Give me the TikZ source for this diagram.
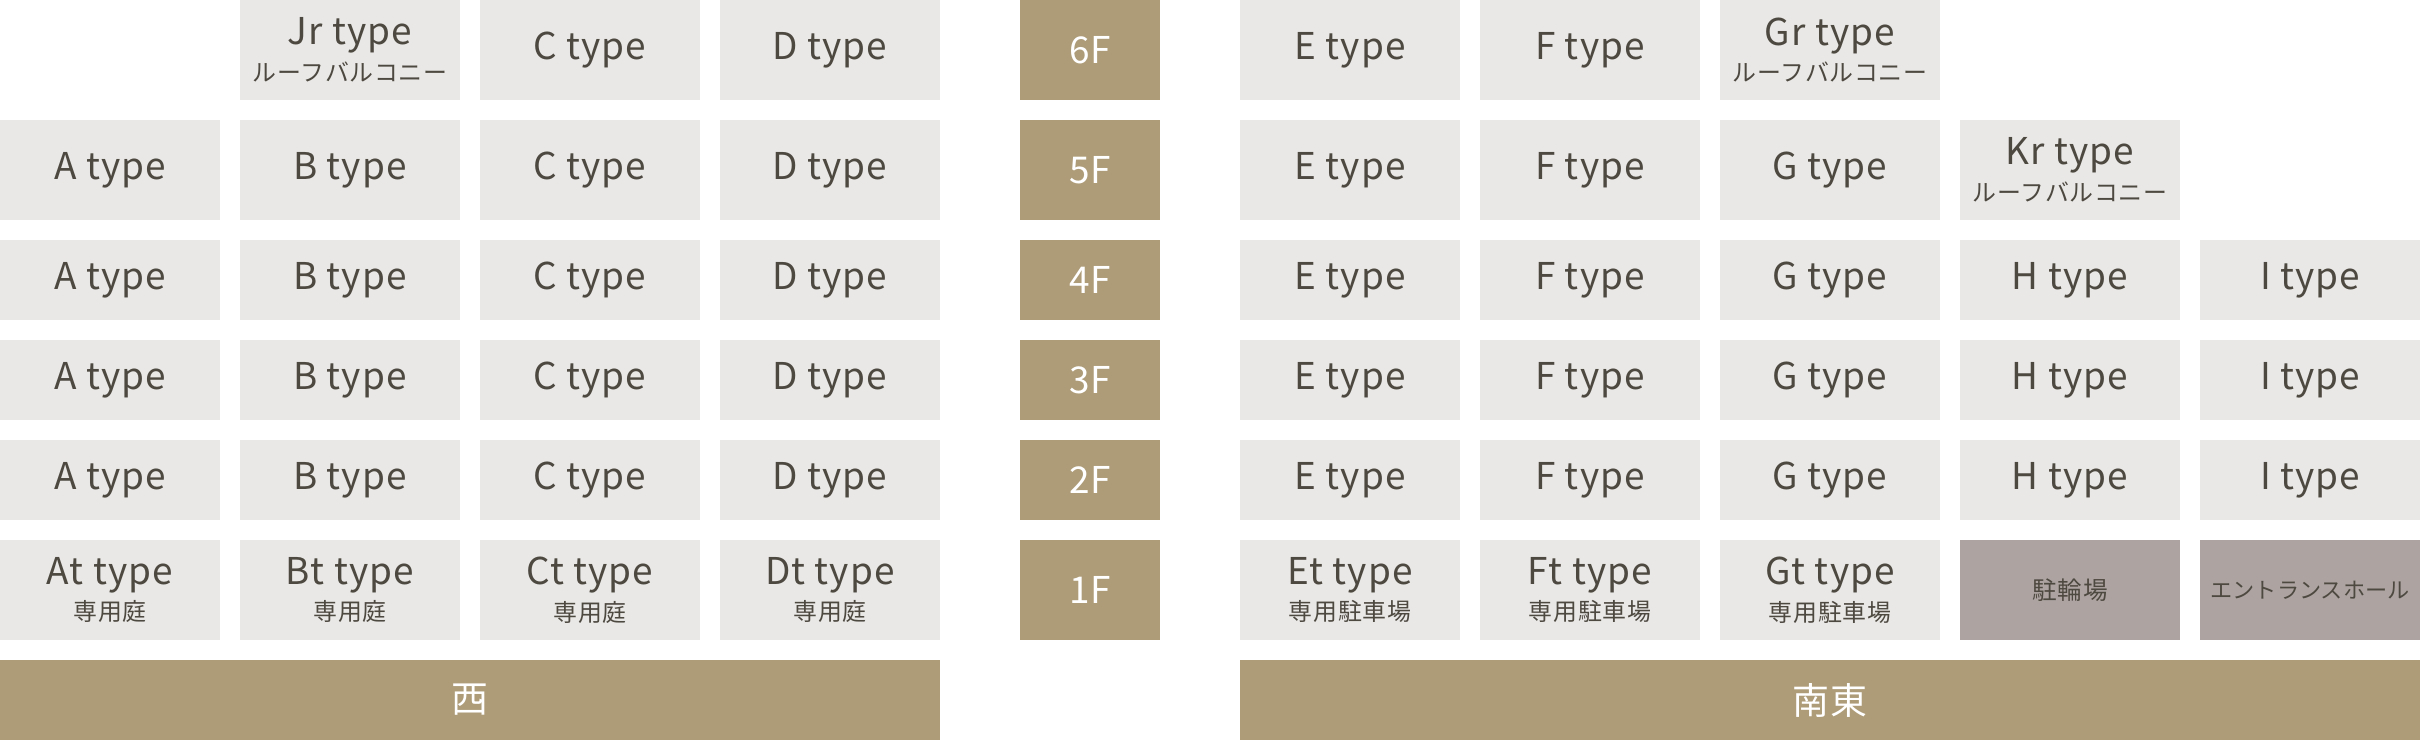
\documentclass[tikz,border=0pt]{standalone}
\usepackage{fontspec}
\setmainfont[LetterSpace=3]{Noto Sans CJK JP}
\usepackage{tikz}
\definecolor{roomgrey}{RGB}{233,232,230}
\definecolor{parkgrey}{RGB}{173,164,161}
\definecolor{tan}{RGB}{174,156,120}
\definecolor{ink}{RGB}{77,72,64}
\newcommand{\subnote}[1]{\\[-1.5pt]{\fontsize{6.8}{8}\selectfont #1}}

\begin{document}
\begin{tikzpicture}[x=0.01cm,y=-0.01cm,
  room/.style={fill=roomgrey,text=ink,minimum width=2.2cm,minimum height=0.8cm,inner sep=0pt,outer sep=0pt,align=center,font=\fontsize{10.5}{12}\selectfont},
  tall/.style={minimum height=1cm},
  floor/.style={fill=tan,text=white,minimum width=1.4cm,minimum height=0.8cm,inner sep=0pt,outer sep=0pt,font=\fontsize{10.5}{12}\selectfont},
  common/.style={room,fill=parkgrey,font=\fontsize{6.8}{8}\selectfont},
  side/.style={fill=tan,text=white,minimum height=0.8cm,inner sep=0pt,outer sep=0pt,font=\fontsize{10.5}{12}\selectfont}]
\useasboundingbox (0,0) rectangle (2420,740);
% 6F
\node[room,tall] (jr6) at (350,50) {Jr type\subnote{ルーフバルコニー}};
\node[room,tall] (c6) at (590,50) {C type};
\node[room,tall] (d6) at (830,50) {D type};
\node[floor,tall] (f6) at (1090,50) {6F};
\node[room,tall] (e6) at (1350,50) {E type};
\node[room,tall] (ff6) at (1590,50) {F type};
\node[room,tall] (gr6) at (1830,50) {Gr type\subnote{ルーフバルコニー}};
% 5F
\node[room,tall] (a5) at (110,170) {A type};
\node[room,tall] (b5) at (350,170) {B type};
\node[room,tall] (c5) at (590,170) {C type};
\node[room,tall] (d5) at (830,170) {D type};
\node[floor,tall] (f5) at (1090,170) {5F};
\node[room,tall] (e5) at (1350,170) {E type};
\node[room,tall] (ff5) at (1590,170) {F type};
\node[room,tall] (g5) at (1830,170) {G type};
\node[room,tall] (kr5) at (2070,170) {Kr type\subnote{ルーフバルコニー}};
% 4F
\node[room] (a4) at (110,280) {A type};
\node[room] (b4) at (350,280) {B type};
\node[room] (c4) at (590,280) {C type};
\node[room] (d4) at (830,280) {D type};
\node[floor] (f4) at (1090,280) {4F};
\node[room] (e4) at (1350,280) {E type};
\node[room] (ff4) at (1590,280) {F type};
\node[room] (g4) at (1830,280) {G type};
\node[room] (h4) at (2070,280) {H type};
\node[room] (i4) at (2310,280) {I type};
% 3F
\node[room] (a3) at (110,380) {A type};
\node[room] (b3) at (350,380) {B type};
\node[room] (c3) at (590,380) {C type};
\node[room] (d3) at (830,380) {D type};
\node[floor] (f3) at (1090,380) {3F};
\node[room] (e3) at (1350,380) {E type};
\node[room] (ff3) at (1590,380) {F type};
\node[room] (g3) at (1830,380) {G type};
\node[room] (h3) at (2070,380) {H type};
\node[room] (i3) at (2310,380) {I type};
% 2F
\node[room] (a2) at (110,480) {A type};
\node[room] (b2) at (350,480) {B type};
\node[room] (c2) at (590,480) {C type};
\node[room] (d2) at (830,480) {D type};
\node[floor] (f2) at (1090,480) {2F};
\node[room] (e2) at (1350,480) {E type};
\node[room] (ff2) at (1590,480) {F type};
\node[room] (g2) at (1830,480) {G type};
\node[room] (h2) at (2070,480) {H type};
\node[room] (i2) at (2310,480) {I type};
% 1F
\node[room,tall] (at1) at (110,590) {At type\subnote{専用庭}};
\node[room,tall] (bt1) at (350,590) {Bt type\subnote{専用庭}};
\node[room,tall] (ct1) at (590,590) {Ct type\subnote{専用庭}};
\node[room,tall] (dt1) at (830,590) {Dt type\subnote{専用庭}};
\node[floor,tall] (f1) at (1090,590) {1F};
\node[room,tall] (et1) at (1350,590) {Et type\subnote{専用駐車場}};
\node[room,tall] (ft1) at (1590,590) {Ft type\subnote{専用駐車場}};
\node[room,tall] (gt1) at (1830,590) {Gt type\subnote{専用駐車場}};
\node[common,tall,font=\fontsize{7}{8}\selectfont] (bike) at (2070,590) {駐輪場};
\node[common,tall,font=\fontsize{6.3}{8}\selectfont\addfontfeature{LetterSpace=0}] (hall) at (2310,590) {エントランスホール};
% sides
\node[side,minimum width=9.4cm] (west) at (470,700) {西};
\node[side,minimum width=11.8cm] (southeast) at (1830,700) {南東};
\end{tikzpicture}
\end{document}
